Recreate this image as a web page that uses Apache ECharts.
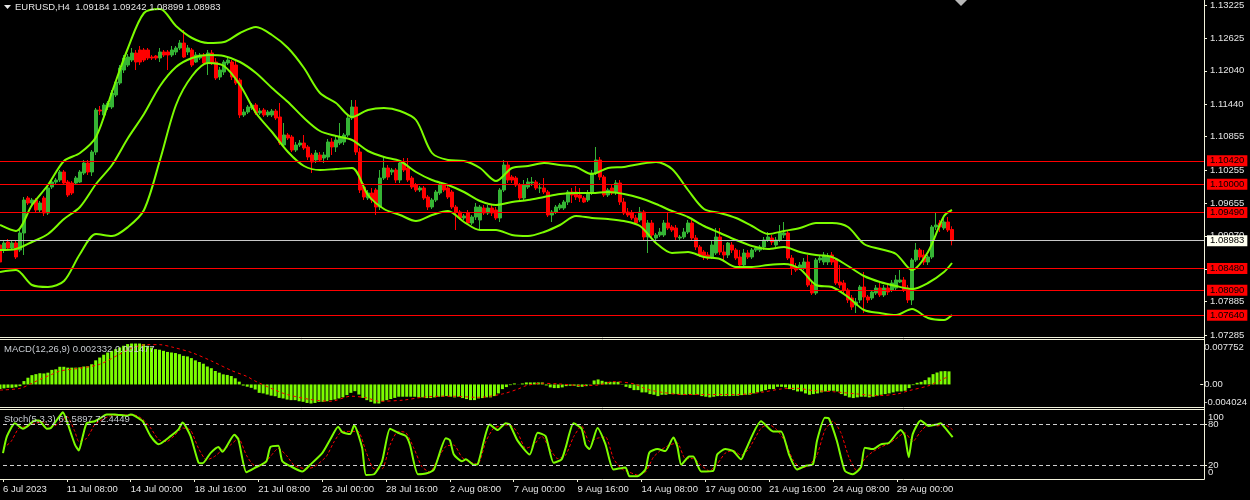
<!DOCTYPE html>
<html><head><meta charset="utf-8">
<script src="https://cdn.jsdelivr.net/npm/echarts@6/dist/echarts.min.js"></script>
<style>html,body{margin:0;padding:0;background:#000;}#c{width:1250px;height:500px;}</style>
</head><body><div id="c"></div>
<script>
// ---------------- DATA ----------------
const symbolName = 'EURUSD,H4';
const opens = [1.08905,1.08815,1.08959,1.08851,1.08941,1.08815,1.09121,1.09751,1.09661,1.09715,
1.09535,1.09751,1.09481,1.09949,1.10039,1.10075,1.10219,1.10039,1.10021,1.10021,
1.10039,1.10201,1.10381,1.10219,1.10579,1.11335,1.11245,1.11389,1.11389,1.11605,
1.11821,1.12055,1.12145,1.12235,1.12361,1.12415,1.12415,1.12415,1.12289,1.12307,
1.12271,1.12379,1.12379,1.12325,1.12379,1.12451,1.12541,1.12379,1.12415,1.12199,
1.12271,1.12325,1.12181,1.12361,1.12199,1.11929,1.12019,1.12181,1.12199,1.12145,
1.11875,1.11245,1.11299,1.11371,1.11425,1.11281,1.11335,1.11245,1.11245,1.11317,
1.11209,1.10705,1.10885,1.10849,1.10615,1.10705,1.10741,1.10669,1.10525,1.10435,
1.10525,1.10471,1.10489,1.10759,1.10669,1.10741,1.10759,1.10885,1.11191,1.11389,
1.10579,1.09949,1.09751,1.09841,1.09895,1.09589,1.10111,1.10291,1.10219,1.10255,
1.10075,1.10381,1.10291,1.10111,1.09985,1.09895,1.09931,1.09769,1.09589,1.09715,
1.09841,1.09985,1.09931,1.09859,1.09589,1.09499,1.09391,1.09481,1.09301,1.09409,
1.09355,1.09571,1.09481,1.09571,1.09535,1.09391,1.09895,1.10345,1.10129,1.10111,
1.09985,1.09751,1.09949,1.10021,1.10039,1.09931,1.09931,1.09859,1.09445,1.09499,
1.09571,1.09571,1.09679,1.09859,1.09859,1.09805,1.09751,1.09715,1.09841,1.10201,
1.10435,1.10129,1.09805,1.09931,1.09859,1.10021,1.09679,1.09499,1.09481,1.09391,
1.09355,1.09499,1.09049,1.09301,1.09031,1.09085,1.09085,1.09301,1.09229,1.09211,
1.09031,1.09049,1.09139,1.09301,1.09031,1.08869,1.08779,1.08725,1.08689,1.08761,
1.09049,1.08779,1.08725,1.08905,1.08815,1.08689,1.08545,1.08761,1.08689,1.08815,
1.08815,1.08869,1.08995,1.09031,1.08905,1.08995,1.09085,1.09121,1.08671,1.08509,
1.08491,1.08491,1.08599,1.08185,1.08041,1.08635,1.08599,1.08599,1.08725,1.08635,
1.08239,1.08221,1.08095,1.07951,1.07825,1.07915,1.08149,1.07969,1.07951,1.08041,
1.08131,1.08005,1.08131,1.08095,1.08131,1.08239,1.08275,1.08131,1.07915,1.08635,
1.08815,1.08725,1.08599,1.08689,1.09229,1.09301,1.09211,1.09319,1.09184];
const highs = [1.08995,1.08995,1.09013,1.08995,1.08995,1.09175,1.09769,1.09787,1.09751,1.09751,
1.09697,1.09787,1.09967,1.10075,1.10111,1.10255,1.10255,1.10075,1.10057,1.10147,
1.10255,1.10435,1.10435,1.10615,1.11371,1.11407,1.11461,1.11497,1.11695,1.11875,
1.12145,1.12325,1.12343,1.12451,1.12415,1.12487,1.12451,1.12451,1.12325,1.12325,
1.12451,1.12415,1.12415,1.12487,1.12487,1.12595,1.12775,1.12505,1.12451,1.12379,
1.12361,1.12361,1.12415,1.12415,1.12271,1.12109,1.12235,1.12289,1.12235,1.12235,
1.11911,1.11353,1.11425,1.11461,1.11461,1.11371,1.11371,1.11335,1.11353,1.11353,
1.11461,1.11101,1.10921,1.10885,1.10759,1.10795,1.10885,1.10705,1.10561,1.10615,
1.10579,1.10579,1.10813,1.10831,1.10885,1.11101,1.10921,1.11245,1.11515,1.11515,
1.10651,1.10021,1.09895,1.09931,1.09931,1.10255,1.10489,1.10345,1.10291,1.10291,
1.10435,1.10471,1.10471,1.10147,1.10021,1.09967,1.09967,1.09805,1.09751,1.09895,
1.10039,1.10021,1.09967,1.09895,1.09625,1.09535,1.09463,1.09535,1.09445,1.09661,
1.09625,1.09625,1.09625,1.09625,1.09589,1.09931,1.10435,1.10399,1.10165,1.10147,
1.10021,1.10075,1.10111,1.10129,1.10075,1.10021,1.10111,1.09895,1.09535,1.09625,
1.09661,1.09715,1.09895,1.09931,1.09967,1.09931,1.09787,1.09895,1.10255,1.10669,
1.10489,1.10165,1.09931,1.09985,1.10075,1.10075,1.09751,1.09571,1.09535,1.09445,
1.09589,1.09535,1.09355,1.09355,1.09121,1.09211,1.09355,1.09481,1.09265,1.09265,
1.09085,1.09211,1.09355,1.09355,1.09085,1.08905,1.08815,1.08779,1.08995,1.09211,
1.09211,1.08905,1.08959,1.08959,1.08851,1.08815,1.08833,1.08815,1.08851,1.08887,
1.08905,1.09049,1.09139,1.09085,1.09049,1.09265,1.09319,1.09175,1.08725,1.08581,
1.08599,1.08671,1.08725,1.08239,1.08671,1.08725,1.08779,1.08761,1.08779,1.08671,
1.08545,1.08275,1.08131,1.08005,1.07951,1.08185,1.08419,1.08005,1.08095,1.08185,
1.08221,1.08185,1.08185,1.08275,1.08365,1.08455,1.08329,1.08185,1.08671,1.08941,
1.08851,1.08815,1.08725,1.09265,1.09481,1.09355,1.09391,1.09409,1.09242];
const lows = [1.08329,1.08761,1.08815,1.08815,1.08653,1.08779,1.08725,1.09625,1.09625,1.09499,
1.09499,1.09427,1.09445,1.09913,1.09985,1.10039,1.09985,1.09769,1.09805,1.09985,
1.10021,1.10165,1.10165,1.10147,1.10525,1.11245,1.11209,1.11335,1.11353,1.11569,
1.11785,1.12001,1.12109,1.12199,1.12055,1.12145,1.12199,1.12235,1.12235,1.12235,
1.12199,1.12289,1.12055,1.12289,1.12325,1.12415,1.12271,1.12325,1.12109,1.12181,
1.12235,1.12145,1.11965,1.12145,1.11875,1.11875,1.11965,1.12145,1.11875,1.11785,
1.11191,1.11209,1.11263,1.11335,1.11245,1.11245,1.11209,1.11209,1.11209,1.11155,
1.10705,1.10669,1.10795,1.10579,1.10579,1.10669,1.10615,1.10435,1.10201,1.10381,
1.10399,1.10381,1.10435,1.10525,1.10579,1.10705,1.10705,1.10849,1.11155,1.10525,
1.09841,1.09715,1.09715,1.09661,1.09445,1.09535,1.10075,1.10075,1.10165,1.10021,
1.10021,1.10219,1.10039,1.09913,1.09859,1.09859,1.09715,1.09535,1.09553,1.09679,
1.09805,1.09859,1.09733,1.09553,1.09175,1.09355,1.09355,1.09265,1.09265,1.09355,
1.09175,1.09445,1.09445,1.09427,1.09355,1.09319,1.09859,1.10021,1.10021,1.09949,
1.09715,1.09715,1.09913,1.09967,1.09895,1.09841,1.09823,1.09409,1.09319,1.09463,
1.09535,1.09535,1.09625,1.09661,1.09715,1.09679,1.09661,1.09679,1.09805,1.10165,
1.10075,1.09769,1.09769,1.09805,1.09805,1.09625,1.09445,1.09409,1.09355,1.09265,
1.09319,1.08995,1.08761,1.09031,1.08995,1.09049,1.09049,1.09175,1.09139,1.08995,
1.08995,1.09013,1.09103,1.08995,1.08815,1.08689,1.08635,1.08635,1.08653,1.08725,
1.08725,1.08599,1.08671,1.08761,1.08635,1.08491,1.08509,1.08653,1.08653,1.08779,
1.08779,1.08815,1.08959,1.08905,1.08869,1.08959,1.09031,1.08635,1.08365,1.08419,
1.08455,1.08455,1.08149,1.08005,1.08005,1.08581,1.08545,1.08545,1.08545,1.08185,
1.08131,1.08041,1.07861,1.07735,1.07681,1.07861,1.07681,1.07861,1.07915,1.08005,
1.07969,1.07969,1.08005,1.08059,1.08095,1.08221,1.08059,1.07861,1.07825,1.08599,
1.08635,1.08545,1.08545,1.08653,1.09175,1.09139,1.09175,1.09139,1.08899];
const closes = [1.08599,1.08941,1.08851,1.08941,1.08689,1.09121,1.09715,1.09661,1.09715,1.09535,
1.09661,1.09481,1.09931,1.10039,1.10075,1.10219,1.10021,1.09805,1.09841,1.10111,
1.10219,1.10381,1.10219,1.10579,1.11335,1.11317,1.11425,1.11461,1.11641,1.11839,
1.12091,1.12271,1.12289,1.12361,1.12199,1.12199,1.12235,1.12271,1.12271,1.12271,
1.12379,1.12325,1.12325,1.12415,1.12451,1.12541,1.12289,1.12451,1.12145,1.12325,
1.12325,1.12181,1.12361,1.12181,1.11911,1.12055,1.12199,1.12235,1.11929,1.11821,
1.11245,1.11299,1.11389,1.11425,1.11281,1.11317,1.11245,1.11299,1.11317,1.11191,
1.10741,1.10885,1.10831,1.10615,1.10705,1.10741,1.10651,1.10489,1.10399,1.10561,
1.10435,1.10525,1.10759,1.10669,1.10795,1.10849,1.10885,1.11191,1.11389,1.10579,
1.09895,1.09769,1.09841,1.09715,1.09589,1.10111,1.10291,1.10129,1.10255,1.10075,
1.10381,1.10255,1.10075,1.09949,1.09895,1.09931,1.09751,1.09589,1.09715,1.09859,
1.09985,1.09895,1.09769,1.09589,1.09499,1.09391,1.09427,1.09301,1.09409,1.09589,
1.09589,1.09481,1.09571,1.09481,1.09391,1.09895,1.10345,1.10075,1.10075,1.09985,
1.09751,1.09985,1.10039,1.10039,1.09931,1.09931,1.09859,1.09445,1.09499,1.09589,
1.09625,1.09679,1.09859,1.09805,1.09769,1.09751,1.09679,1.09841,1.10201,1.10435,
1.10129,1.09805,1.09895,1.09841,1.10021,1.09679,1.09481,1.09445,1.09391,1.09301,
1.09499,1.09049,1.09301,1.09085,1.09085,1.09139,1.09301,1.09211,1.09175,1.09049,
1.09049,1.09139,1.09301,1.09031,1.08869,1.08725,1.08689,1.08671,1.08905,1.09049,
1.08779,1.08725,1.08941,1.08815,1.08671,1.08545,1.08761,1.08689,1.08815,1.08851,
1.08869,1.08995,1.09049,1.08959,1.08995,1.09121,1.09121,1.08671,1.08491,1.08455,
1.08545,1.08599,1.08185,1.08041,1.08635,1.08671,1.08725,1.08689,1.08599,1.08221,
1.08185,1.08095,1.07915,1.07789,1.07879,1.08149,1.07969,1.07915,1.08059,1.08131,
1.08005,1.08131,1.08059,1.08221,1.08275,1.08275,1.08095,1.07915,1.08635,1.08815,
1.08689,1.08599,1.08689,1.09229,1.09265,1.09229,1.09319,1.09175,1.08983];

// Bollinger bands (20,2) at every 4th bar
const bandBars = [0,4,8,12,16,20,24,28,32,36,40,44,48,52,56,60,64,68,72,76,80,84,88,92,96,100,104,108,112,116,
120,124,128,132,136,140,144,148,152,156,160,164,168,172,176,180,184,188,192,196,200,204,208,212,216,220,224,228,232,236,238];
const bbUpper = [1.09265,1.09157,1.09625,1.09985,1.10417,1.10561,1.10849,1.11659,1.12451,1.13081,1.13153,1.12847,1.12631,1.12541,1.12559,1.12721,1.12829,1.12685,1.12451,1.12091,
1.11641,1.11461,1.11209,1.11335,1.11371,1.11317,1.11155,1.10561,1.10435,1.10417,1.10291,1.10057,1.10291,1.10327,1.10381,1.10345,1.10309,1.10183,1.10291,1.10309,
1.10363,1.10399,1.10273,1.09895,1.09553,1.09481,1.09391,1.09247,1.09103,1.09157,1.09211,1.09301,1.09301,1.09229,1.08923,1.08833,1.08743,1.08455,1.08779,1.09427,1.09535];
const bbMiddle = [1.08815,1.08833,1.08959,1.09103,1.09373,1.09589,1.10003,1.10345,1.10831,1.11263,1.11767,1.12109,1.12271,1.12325,1.12307,1.12199,1.12001,1.11731,1.11479,1.11191,
1.10957,1.10867,1.10795,1.10597,1.10489,1.10417,1.10219,1.10075,1.09985,1.09859,1.09697,1.09625,1.09679,1.09715,1.09769,1.09823,1.09841,1.09841,1.09859,1.09823,
1.09751,1.09643,1.09517,1.09409,1.09247,1.09121,1.08995,1.08887,1.08833,1.08869,1.08779,1.08725,1.08689,1.08527,1.08347,1.08239,1.08167,1.08113,1.08221,1.08419,1.08581];
const bbLower = [1.08419,1.08455,1.08185,1.08149,1.08257,1.08743,1.09103,1.09067,1.09229,1.09535,1.10435,1.11425,1.11947,1.12181,1.12127,1.11785,1.11281,1.10939,1.10579,1.10327,
1.10255,1.10273,1.10291,1.09805,1.09553,1.09445,1.09337,1.09445,1.09517,1.09319,1.09175,1.09175,1.09085,1.09067,1.09139,1.09265,1.09427,1.09391,1.09373,1.09337,
1.09247,1.08941,1.08761,1.08779,1.08689,1.08653,1.08509,1.08509,1.08545,1.08563,1.08473,1.08185,1.08149,1.07969,1.07735,1.07681,1.07645,1.07753,1.07591,1.07555,1.07645];

// Horizontal levels and current price
const levels = [1.10420, 1.10000, 1.09490, 1.08480, 1.08090, 1.07640];
const currentPrice = 1.08983;
const priceTicks = [1.13225,1.12625,1.12040,1.11440,1.10855,1.10255,1.09655,1.09070,1.08470,1.07885,1.07285];

// MACD(12,26,9): main (histogram) per bar, signal read at sample bars
const macdMain = [-0.0008,-0.0007,-0.0006,-0.0006,-0.0005,-0.0003,0.0006,0.0012,0.00166,0.00184,
0.0020,0.00196,0.0021,0.0026,0.0027,0.00315,0.00315,0.0030,0.0030,0.0030,
0.00305,0.0032,0.00325,0.0036,0.0043,0.0048,0.0053,0.0057,0.0060,0.0063,
0.0066,0.0069,0.0072,0.0073,0.0073,0.0073,0.0072,0.0069,0.0066,0.0063,
0.0062,0.0060,0.0058,0.0057,0.0056,0.0054,0.0051,0.0050,0.0047,0.0043,
0.0040,0.0037,0.0032,0.0029,0.0024,0.0021,0.0018,0.0017,0.0015,0.0011,
0.0005,-0.0002,-0.0004,-0.0006,-0.0009,-0.0015,-0.0016,-0.0018,-0.0020,-0.0021,
-0.0024,-0.0025,-0.0027,-0.0028,-0.0028,-0.0030,-0.0031,-0.0033,-0.0034,-0.0033,
-0.0031,-0.0031,-0.0030,-0.0028,-0.0027,-0.0025,-0.0023,-0.0019,-0.0015,-0.0012,
-0.0018,-0.0024,-0.0028,-0.0031,-0.0034,-0.0034,-0.0030,-0.0028,-0.0026,-0.0024,
-0.00219,-0.00219,-0.00219,-0.00219,-0.00219,-0.00231,-0.00231,-0.00243,-0.00243,-0.00231,
-0.00219,-0.00219,-0.00208,-0.00219,-0.00231,-0.00219,-0.00243,-0.00261,-0.00279,-0.00279,
-0.00249,-0.00243,-0.00231,-0.00231,-0.00208,-0.00160,-0.00083,-0.00047,-0.00012,0.00018,
0.00002,0.00018,0.00036,0.00036,0.00036,0.00036,0.00036,-0.00018,-0.00053,-0.00065,
-0.00065,-0.00053,-0.00030,-0.00024,-0.00024,-0.00042,-0.00042,-0.00030,0.00006,0.00071,
0.00089,0.00065,0.00047,0.00047,0.00047,0.00047,0.00006,-0.00042,-0.00065,-0.00101,
-0.00101,-0.00142,-0.00142,-0.00172,-0.00184,-0.00208,-0.00184,-0.00184,-0.00172,-0.00172,
-0.00172,-0.00184,-0.00184,-0.00172,-0.00184,-0.00184,-0.00208,-0.00219,-0.00231,-0.00219,
-0.00208,-0.00208,-0.00208,-0.00208,-0.00202,-0.00202,-0.00190,-0.00184,-0.00184,-0.00160,
-0.00142,-0.00125,-0.00101,-0.00083,-0.00083,-0.00042,-0.00042,-0.00053,-0.00083,-0.00101,
-0.00125,-0.00125,-0.00160,-0.00184,-0.00172,-0.00160,-0.00142,-0.00125,-0.00113,-0.00113,
-0.00125,-0.00172,-0.00202,-0.00231,-0.00243,-0.00231,-0.00219,-0.00219,-0.00231,-0.00219,
-0.00202,-0.00184,-0.00172,-0.00160,-0.00142,-0.00125,-0.00125,-0.00113,-0.00065,-0.00012,
0.00030,0.00047,0.00077,0.00125,0.00184,0.00213,0.00235,0.00238,0.002332];
const macdSignalBars = [0,5,8,10,13,15,20,25,30,33,37,40,43,48,53,58,62,64,69,72,78,83,88,92,95,101,107,113,120,126,
130,132,136,140,146,150,154,159,162,166,171,178,185,191,196,200,204,209,215,220,225,228,233,236,238];
const macdSignal = [-0.0010,-0.0007,0.0002,0.0009,0.0018,0.0024,0.0029,0.0036,0.0054,0.0065,0.0071,0.0071,0.0067,0.0057,0.0042,0.0025,0.0014,0.0006,-0.0010,-0.0018,
-0.0027,-0.0030,-0.0021,-0.0024,-0.0030,-0.0028,-0.0022,-0.0021,-0.0023,-0.0017,-0.0008,-0.0002,0.0002,0.0001,-0.0002,-0.0001,0.0005,0.0001,-0.0008,-0.0014,
-0.0018,-0.0018,-0.0018,-0.0014,-0.0008,-0.0007,-0.0011,-0.0013,-0.0017,-0.0020,-0.0017,-0.0011,-0.0002,0.0008,0.001477];
const macdMax = 0.007752, macdMin = -0.004024;

// Stochastic(5,3,3): %K and %D read at sample bars
const stochBars = [0,1,3,5,6,8,9,11,12,14,15,16,18,19,20,21,23,24,26,28,31,32,33,35,37,39,42,44,45,47,
49,50,52,54,55,58,59,61,63,66,67,69,70,72,75,77,80,82,84,85,87,88,90,91,93,95,97,99,101,102,
104,106,108,111,112,113,115,116,118,119,122,124,126,127,129,132,134,136,138,140,141,143,145,146,147,149,151,153,156,157,
159,161,162,164,166,168,169,170,172,173,175,178,179,181,183,185,186,190,193,195,197,199,201,203,204,206,207,209,211,213,
215,216,218,220,222,224,225,226,227,228,230,232,234,235,236,238];
const stochK = [38,63,82,74,77,86,86,74,75,91,98,85,51,42,63,82,85,88,95,95,93,95,93,85,63,51,63,73,83,63,
24,23,38,47,40,65,58,10,16,26,47,49,26,19,11,21,38,58,77,69,66,79,46,6,7,26,74,68,63,50,
7,8,14,60,57,36,26,29,21,22,80,72,82,80,56,36,68,63,24,29,46,82,74,50,44,75,51,14,17,4,
4,14,39,44,41,61,48,21,33,33,11,12,36,44,41,29,41,85,70,70,36,14,19,22,56,90,89,56,12,7,
17,46,44,51,53,67,72,64,32,66,86,78,80,82,76,61.5897];
const stochSigBars = [0,2,4,6,8,10,12,14,16,18,19,21,23,25,27,30,33,35,37,39,41,43,45,47,49,51,53,55,57,59,
61,63,65,67,69,71,73,76,78,81,83,85,87,89,91,93,95,97,99,101,103,105,107,109,111,113,115,117,119,121,
123,125,127,129,131,133,135,137,139,141,143,145,147,149,151,153,155,157,159,161,163,165,167,169,171,173,175,177,179,181,
183,185,187,190,192,194,196,198,200,202,204,206,208,210,212,214,216,218,220,222,224,226,228,230,232,234,236,238];
const stochD = [45,55,75,77,82,84,76,82,92,70,55,60,80,88,93,94,94,88,75,58,55,64,75,72,45,28,33,43,50,60,
35,20,20,33,45,35,20,15,18,33,55,70,70,70,40,15,15,50,70,68,45,18,10,30,48,50,32,25,22,55,
75,78,80,68,45,50,63,45,30,35,62,78,55,60,62,30,15,10,6,10,32,43,50,53,30,30,20,12,22,38,
42,35,45,75,80,72,55,28,16,20,35,72,85,68,32,12,30,40,47,52,60,68,55,70,80,78,80,72.4449];
const stochLevels = [80, 20];

// Time axis labels, one every 16 bars
const timeLabels = ['6 Jul 2023','11 Jul 08:00','14 Jul 00:00','18 Jul 16:00','21 Jul 08:00','26 Jul 00:00','28 Jul 16:00',
'2 Aug 08:00','7 Aug 00:00','9 Aug 16:00','14 Aug 08:00','17 Aug 00:00','21 Aug 16:00','24 Aug 08:00','29 Aug 00:00'];
const labelStep = 16;
const totalSlots = 302;   // visible bar slots incl. right shift

// ---------------- CHART ----------------
const FONT = '"Liberation Sans", Arial, sans-serif';
const textColor = '#e4e4e4';
const frameColor = '#f2f2dc';
const upColor = '#35b435', downColor = '#ff0000', limeColor = '#7cfc00';
const slots = Array.from({length: totalSlots}, (_, i) => String(i));
const candles = opens.map((o, i) => [o, closes[i], lows[i], highs[i]]);
const pairs = (xs, ys) => xs.map((x, i) => [x, ys[i]]);
const last = opens.length - 1;
const priceMax = 1.13315, priceMin = 1.07249;

const isLabelSlot = (idx) => idx % labelStep === 0 && idx / labelStep < timeLabels.length;

const chart = echarts.init(document.getElementById('c'), null, {renderer: 'canvas'});
const hiddenX = (g) => ({type: 'category', gridIndex: g, data: slots, boundaryGap: false, show: false});
const labelBase = {color: textColor, fontSize: 9.5, fontFamily: FONT};
const option = {
  backgroundColor: '#000000',
  animation: false,
  grid: [
    {left: 0, top: 0, width: 1204, height: 337},
    {left: 0, top: 341, width: 1204, height: 66},
    {left: 0, top: 411, width: 1204, height: 68}
  ],
  xAxis: [
    hiddenX(0), hiddenX(1),
    {type: 'category', gridIndex: 2, data: slots, boundaryGap: false,
     axisLine: {show: false},
     axisTick: {show: true, interval: isLabelSlot, length: 3, lineStyle: {color: frameColor}},
     axisLabel: Object.assign({show: true, interval: isLabelSlot, align: 'left', margin: 5,
       formatter: (v, idx) => timeLabels[idx / labelStep]}, labelBase),
     splitLine: {show: false}}
  ],
  yAxis: [
    {type: 'value', gridIndex: 0, position: 'right', min: priceMin, max: priceMax, scale: true,
     axisLine: {show: false}, splitLine: {show: false},
     axisTick: {show: true, length: 3, customValues: priceTicks, lineStyle: {color: frameColor}},
     axisLabel: Object.assign({show: true, customValues: priceTicks, margin: 6, hideOverlap: false,
       formatter: v => v.toFixed(5)}, labelBase)},
    {type: 'value', gridIndex: 1, position: 'right', min: macdMin, max: macdMax,
     axisLine: {show: false}, splitLine: {show: false},
     axisTick: {show: true, length: 3, customValues: [0], lineStyle: {color: frameColor}},
     axisLabel: Object.assign({show: true, customValues: [macdMax, 0, macdMin], margin: 4,
       showMinLabel: true, showMaxLabel: true, hideOverlap: false,
       formatter: v => v === macdMax ? '{t|' + macdMax.toFixed(6) + '}' : (v === macdMin ? '{b|' + macdMin.toFixed(6) + '}' : '0.00'),
       rich: {t: Object.assign({padding: [12, 0, 0, 0]}, labelBase),
              b: Object.assign({padding: [0, 0, 10, 0]}, labelBase)}}, labelBase)},
    {type: 'value', gridIndex: 2, position: 'right', min: 0, max: 100,
     axisLine: {show: false}, splitLine: {show: false},
     axisTick: {show: false},
     axisLabel: Object.assign({show: true, customValues: [100, 0], margin: 4,
       showMinLabel: true, showMaxLabel: true, hideOverlap: false,
       formatter: v => v === 100 ? '{t|100}' : '{b|0}',
       rich: {t: Object.assign({padding: [12, 0, 0, 0]}, labelBase),
              b: Object.assign({padding: [0, 0, 14, 0]}, labelBase)}}, labelBase)},
    {type: 'value', gridIndex: 2, position: 'right', min: 0, max: 100,
     axisLine: {show: false}, splitLine: {show: false},
     axisTick: {show: true, length: 3, customValues: stochLevels, lineStyle: {color: frameColor}},
     axisLabel: Object.assign({show: true, customValues: stochLevels, margin: 4, hideOverlap: false,
       formatter: v => String(v)}, labelBase)}
  ],
  series: [
    {type: 'candlestick', xAxisIndex: 0, yAxisIndex: 0, data: candles, barWidth: 3,
     itemStyle: {color: upColor, color0: downColor, borderColor: upColor, borderColor0: downColor, borderWidth: 1},
     markLine: {
       silent: true, symbol: ['none', 'none'], animation: false, precision: 5,
       label: {show: true, position: 'end', distance: 3, formatter: p => p.value.toFixed(5),
         color: '#000', fontSize: 9.5, fontFamily: FONT, padding: [1, 3, 0, 3]},
       data: levels.map(v => ({yAxis: v, lineStyle: {color: '#ff0000', width: 1, type: 'solid'},
                               label: {backgroundColor: '#ff0000'}}))
         .concat([{yAxis: currentPrice, lineStyle: {color: '#c8c8c8', width: 1, type: 'solid'},
                   label: {backgroundColor: '#fffff0'}}])
     }},
    {type: 'line', xAxisIndex: 0, yAxisIndex: 0, data: pairs(bandBars, bbUpper), showSymbol: false, smooth: 0.3,
     lineStyle: {color: limeColor, width: 2}},
    {type: 'line', xAxisIndex: 0, yAxisIndex: 0, data: pairs(bandBars, bbMiddle), showSymbol: false, smooth: 0.3,
     lineStyle: {color: limeColor, width: 2}},
    {type: 'line', xAxisIndex: 0, yAxisIndex: 0, data: pairs(bandBars, bbLower), showSymbol: false, smooth: 0.3,
     lineStyle: {color: limeColor, width: 2}},
    {type: 'bar', xAxisIndex: 1, yAxisIndex: 1, data: macdMain, barWidth: 3, itemStyle: {color: limeColor}},
    {type: 'line', xAxisIndex: 1, yAxisIndex: 1, data: pairs(macdSignalBars, macdSignal), showSymbol: false, smooth: 0.3,
     lineStyle: {color: '#ff0000', width: 1, type: [3, 3]}},
    {type: 'line', xAxisIndex: 2, yAxisIndex: 2, data: pairs(stochSigBars, stochD), showSymbol: false, smooth: 0.2,
     lineStyle: {color: '#ff0000', width: 1, type: [3, 2]}},
    {type: 'line', xAxisIndex: 2, yAxisIndex: 2, data: pairs(stochBars, stochK), showSymbol: false, smooth: 0.2,
     lineStyle: {color: limeColor, width: 2},
     markLine: {silent: true, symbol: ['none', 'none'], label: {show: false},
       lineStyle: {color: '#cfcfcf', width: 1, type: [4, 3]},
       data: stochLevels.map(v => ({yAxis: v}))}}
  ],
  graphic: [
    {type: 'line', silent: true, z: 50, shape: {x1: 0, y1: 337.5, x2: 1204.5, y2: 337.5}, style: {stroke: frameColor, lineWidth: 1}},
    {type: 'line', silent: true, z: 50, shape: {x1: 0, y1: 339.5, x2: 1204.5, y2: 339.5}, style: {stroke: frameColor, lineWidth: 1}},
    {type: 'line', silent: true, z: 50, shape: {x1: 0, y1: 407.5, x2: 1204.5, y2: 407.5}, style: {stroke: frameColor, lineWidth: 1}},
    {type: 'line', silent: true, z: 50, shape: {x1: 0, y1: 409.5, x2: 1204.5, y2: 409.5}, style: {stroke: frameColor, lineWidth: 1}},
    {type: 'line', silent: true, z: 50, shape: {x1: 0, y1: 479.5, x2: 1204.5, y2: 479.5}, style: {stroke: frameColor, lineWidth: 1}},
    {type: 'line', silent: true, z: 50, shape: {x1: 1204.5, y1: 0, x2: 1204.5, y2: 479.5}, style: {stroke: frameColor, lineWidth: 1}},
    {type: 'polygon', silent: true, z: 60, shape: {points: [[4, 5], [11, 5], [7.5, 9]]}, style: {fill: '#e8e8e8'}},
    {type: 'polygon', silent: true, z: 60, shape: {points: [[955, 0], [967, 0], [961, 6]]}, style: {fill: '#b8b8b8'}},
    {type: 'text', silent: true, z: 60, x: 15, y: 7,
     style: {text: symbolName + '  ' + [opens[last], highs[last], lows[last], closes[last]].map(v => v.toFixed(5)).join(' '),
             fill: textColor, font: '9.5px ' + FONT, verticalAlign: 'middle'}},
    {type: 'text', silent: true, z: 60, x: 4, y: 349,
     style: {text: 'MACD(12,26,9) ' + macdMain[last].toFixed(6) + ' ' + macdSignal[macdSignal.length - 1].toFixed(6),
             fill: '#c8ccd2', font: '9.5px ' + FONT, verticalAlign: 'middle'}},
    {type: 'text', silent: true, z: 60, x: 4, y: 419,
     style: {text: 'Stoch(5,3,3) ' + stochK[stochK.length - 1].toFixed(4) + ' ' + stochD[stochD.length - 1].toFixed(4),
             fill: '#c8ccd2', font: '9.5px ' + FONT, verticalAlign: 'middle'}}
  ]
};
chart.setOption(option);
</script>
</body></html>
